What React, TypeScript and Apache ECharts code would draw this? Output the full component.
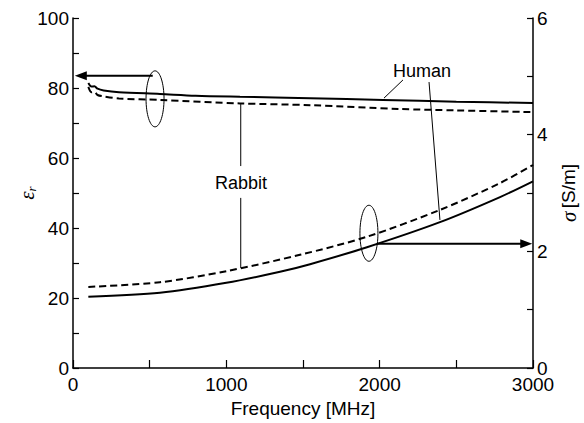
import React, { useEffect, useRef } from "react";
import * as echarts from "echarts";

// Relative permittivity (left axis)
const humanEpsFreq = [100, 120, 140, 160, 200, 300, 567, 800, 1089, 1547, 2022, 2500, 3000];
const humanEps = [81.4, 80.4, 80.5, 79.8, 79.3, 78.8, 78.3, 77.8, 77.5, 77.1, 76.6, 76.1, 75.7];
const rabbitEpsFreq = [100, 120, 140, 160, 200, 300, 567, 1089, 1547, 2133, 2500, 3000];
const rabbitEps = [80.3, 78.8, 78.9, 78.0, 77.6, 77.0, 76.6, 75.6, 75.1, 74.0, 73.6, 73.1];

// Conductivity (right axis)
const humanSigFreq = [100, 567, 1000, 1350, 1546, 1917, 2393, 2785, 3000];
const humanSig = [1.22, 1.29, 1.46, 1.65, 1.78, 2.07, 2.5, 2.93, 3.2];
const rabbitSigFreq = [100, 567, 1000, 1480, 1917, 2393, 2785, 3000];
const rabbitSig = [1.39, 1.47, 1.66, 1.94, 2.25, 2.71, 3.17, 3.48];

// Axis ticks
const xTicks = { min: 0, max: 3000, interval: 1000 };
const epsTicks = { min: 0, max: 100, interval: 20 };
const sigTicks = { min: 0, max: 6, interval: 2 };

// Annotations in data coordinates
const upperEllipse = [535, 76.9]; // left axis
const upperArrow = [[520, 83.5], [12, 83.5]]; // left axis
const lowerEllipse = [1930, 2.31]; // right axis
const lowerArrow = [[1983, 2.13], [2995, 2.13]]; // right axis
const humanLeaders = [
  [[2152, 82.3], [2028, 77.1]],
  [[2322, 81.7], [2393, 42.3]],
];
const rabbitLeaders = [
  [[1094, 75.4], [1094, 57.7]],
  [[1094, 48.6], [1094, 28.6]],
];
const humanLabel = [2276, 84.9];
const rabbitLabel = [1096, 52.9];

const zip = (a: number[], b: number[]) => a.map((x, i) => [x, b[i]]);

const FONT = "Liberation Sans";

export default function App() {
  const ref = useRef<HTMLDivElement>(null);
  useEffect(() => {
    const chart = echarts.init(ref.current!, null, { renderer: "svg" });
    const axisStyle = { lineStyle: { color: "#000", width: 1.5 } };
    const labelStyle = { color: "#000", fontSize: 19, fontFamily: FONT };
    const plain = (v: number) => String(v);
    chart.setOption({
      animation: false,
      grid: { left: 73, right: 51, top: 18, bottom: 55, containLabel: false, outerBoundsMode: "none" },
      xAxis: {
        type: "value",
        ...xTicks,
        axisLine: { show: true, ...axisStyle },
        axisTick: { show: true, inside: true, length: 8, lineStyle: { color: "#000", width: 1.2 } },
        minorTick: { show: true, splitNumber: 2, length: 8, lineStyle: { color: "#000", width: 1.2 } },
        splitLine: { show: false },
        axisLabel: { ...labelStyle, margin: 7, formatter: plain },
        name: "Frequency [MHz]",
        nameLocation: "middle",
        nameGap: 30,
        nameTextStyle: { ...labelStyle },
      },
      yAxis: [
        {
          type: "value",
          position: "left",
          ...epsTicks,
          axisLine: { show: true, ...axisStyle },
          axisTick: { show: true, inside: true, length: 6, lineStyle: { color: "#000", width: 1.2 } },
          minorTick: { show: true, splitNumber: 2, length: 6, lineStyle: { color: "#000", width: 1.2 } },
          splitLine: { show: false },
          axisLabel: { ...labelStyle, margin: 4, formatter: plain },
          name: "{e|ε}{r|r}",
          nameLocation: "middle",
          nameRotate: 90,
          nameGap: 35,
          nameMoveOverlap: false,
          nameTextStyle: {
            rich: {
              e: { fontFamily: "Liberation Serif", fontStyle: "italic", fontSize: 21, color: "#000" },
              r: { fontFamily: "Liberation Serif", fontStyle: "italic", fontSize: 13, color: "#000", padding: [10, 0, 0, 0] },
            },
          },
        },
        {
          type: "value",
          position: "right",
          ...sigTicks,
          axisLine: { show: true, ...axisStyle },
          axisTick: { show: true, inside: true, length: 6, lineStyle: { color: "#000", width: 1.2 } },
          minorTick: { show: true, splitNumber: 2, length: 6, lineStyle: { color: "#000", width: 1.2 } },
          splitLine: { show: false },
          axisLabel: { ...labelStyle, margin: 4, formatter: plain },
          name: "{s|σ} {t|[S/m]}",
          nameLocation: "middle",
          nameRotate: 90,
          nameGap: 25,
          nameTextStyle: {
            rich: {
              s: { fontFamily: "Liberation Serif", fontStyle: "italic", fontSize: 21, color: "#000" },
              t: { fontFamily: FONT, fontSize: 19, color: "#000" },
            },
          },
        },
      ],
      series: [
        {
          type: "line", yAxisIndex: 0, showSymbol: false, smooth: 0.3,
          data: zip(humanEpsFreq, humanEps),
          lineStyle: { color: "#000", width: 2 },
        },
        {
          type: "line", yAxisIndex: 0, showSymbol: false, smooth: 0.3,
          data: zip(rabbitEpsFreq, rabbitEps),
          lineStyle: { color: "#000", width: 2, type: [7, 4] },
        },
        {
          type: "line", yAxisIndex: 1, showSymbol: false, smooth: 0.3,
          data: zip(humanSigFreq, humanSig),
          lineStyle: { color: "#000", width: 2 },
        },
        {
          type: "line", yAxisIndex: 1, showSymbol: false, smooth: 0.3,
          data: zip(rabbitSigFreq, rabbitSig),
          lineStyle: { color: "#000", width: 2, type: [7, 4] },
        },
      ],
    });

    const pL = (p: number[]) => chart.convertToPixel({ xAxisIndex: 0, yAxisIndex: 0 }, p) as number[];
    const pR = (p: number[]) => chart.convertToPixel({ xAxisIndex: 0, yAxisIndex: 1 }, p) as number[];
    const thin = { stroke: "#000", lineWidth: 1 };
    const line = (a: number[], b: number[], w = 1) => ({
      type: "line",
      shape: { x1: a[0], y1: a[1], x2: b[0], y2: b[1] },
      style: { stroke: "#000", lineWidth: w },
      silent: true,
    });
    const graphics: any[] = [];
    const ue = pL(upperEllipse);
    graphics.push({ type: "ellipse", shape: { cx: ue[0], cy: ue[1], rx: 9, ry: 28 }, style: { fill: "none", ...thin } });
    const ua0 = pL(upperArrow[0]);
    const ua1 = pL(upperArrow[1]);
    graphics.push(line(ua0, [ua1[0] + 8, ua1[1]], 2));
    graphics.push({ type: "polygon", shape: { points: [[ua1[0], ua1[1]], [ua1[0] + 12, ua1[1] - 4.5], [ua1[0] + 12, ua1[1] + 4.5]] }, style: { fill: "#000" } });
    const le = pR(lowerEllipse);
    graphics.push({ type: "ellipse", shape: { cx: le[0], cy: le[1], rx: 9, ry: 28 }, style: { fill: "none", ...thin } });
    const la0 = pR(lowerArrow[0]);
    const la1 = pR(lowerArrow[1]);
    graphics.push(line(la0, [la1[0] - 8, la1[1]], 2));
    graphics.push({ type: "polygon", shape: { points: [[la1[0], la1[1]], [la1[0] - 12, la1[1] - 4.5], [la1[0] - 12, la1[1] + 4.5]] }, style: { fill: "#000" } });
    [...humanLeaders, ...rabbitLeaders].forEach(([a, b]) => graphics.push(line(pL(a), pL(b), 1)));
    const hl = pL(humanLabel);
    graphics.push({ type: "text", x: hl[0], y: hl[1], style: { text: "Human", fontFamily: FONT, fontSize: 18, fill: "#000", align: "center", verticalAlign: "middle" } });
    const rl = pL(rabbitLabel);
    graphics.push({ type: "text", x: rl[0], y: rl[1], style: { text: "Rabbit", fontFamily: FONT, fontSize: 18, fill: "#000", align: "center", verticalAlign: "middle" } });
    chart.setOption({ graphic: graphics });

    return () => chart.dispose();
  }, []);
  return <div ref={ref} style={{ position: "fixed", left: 0, top: 0, width: 584, height: 423, background: "#fff" }} />;
}
